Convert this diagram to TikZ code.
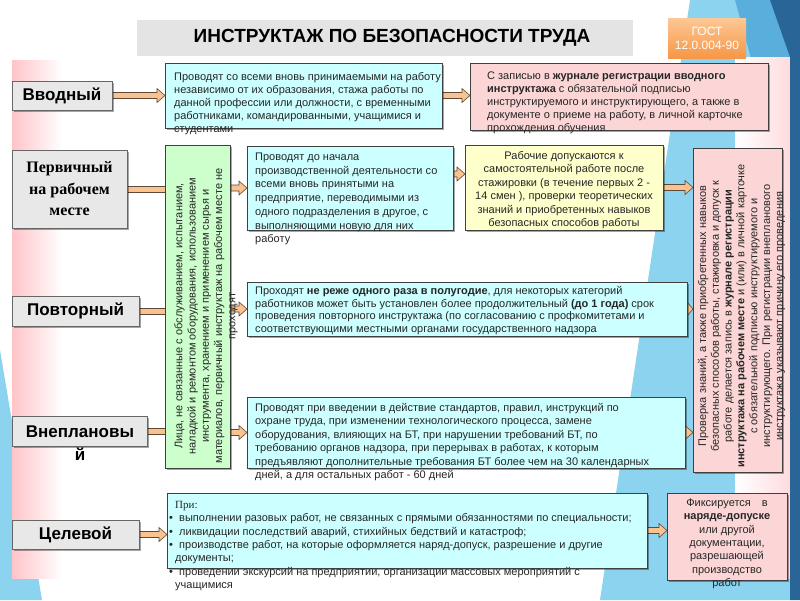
\documentclass[tikz,border=0pt]{standalone}
\usepackage{fontspec}
\setmainfont{Liberation Sans}
\newfontfamily\serifrm{Liberation Serif}
\usetikzlibrary{calc,shadows}
\pgfdeclarelayer{deco}
\pgfdeclarelayer{arr}
\pgfsetlayers{deco,arr,main}
\definecolor{cyanbox}{HTML}{CCFFFF}
\definecolor{pinkbox}{HTML}{FCD6D6}
\definecolor{yelbox}{HTML}{FFFFCC}
\definecolor{grnbox}{HTML}{CCFFCC}
\definecolor{lblfill}{HTML}{E8E8E8}
\definecolor{edge}{HTML}{404040}
\definecolor{textc}{HTML}{262626}
\definecolor{arrfill}{HTML}{F9C28E}
\definecolor{arredge}{HTML}{5E4A3A}
\definecolor{lightblue}{HTML}{8CD3EF}
\definecolor{medblue}{HTML}{5AAEDC}
\definecolor{darkblue}{HTML}{2A6598}
\definecolor{bgpink}{HTML}{FFC4C8}
\definecolor{titlegray}{HTML}{E4E4E4}
\definecolor{gostA}{HTML}{F79646}
\definecolor{gostB}{HTML}{FCC895}
\tikzset{
  box/.style={draw=edge, line width=0.7pt, inner sep=0pt, outer sep=0pt,
    drop shadow={shadow xshift=1.5pt, shadow yshift=-1.5pt, opacity=0.35, fill=black}},
  bluebox/.style={box, fill=cyanbox},
  pinkb/.style={box, fill=pinkbox},
  yelb/.style={box, fill=yelbox},
  grnb/.style={box, fill=grnbox},
  lbl/.style={box, fill=lblfill, draw=edge!80},
  lbltxt/.style={font=\fontsize{17}{21}\selectfont\bfseries, inner sep=0pt, text=black},
  txt/.style={inner sep=0pt, font=\fontsize{11}{13}\selectfont, align=left, anchor=base west, text=textc},
  ctxt/.style={inner sep=0pt, font=\fontsize{11}{13.4}\selectfont, align=center, anchor=base, text=textc},
  arrowpath/.style={fill=arrfill, draw=arredge, line width=0.6pt},
}
\newcommand\mkbox[6]{\node[#2, minimum width={#5-#3}, minimum height={#6-#4}] (#1) at ({(#3+#5)/2},{(#4+#6)/2}) {};}
\newcommand\fatarrow[2]{%
  \filldraw[arrowpath] let \p1=(#1), \p2=(#2), \n1={max(\x1,\x2-8pt)} in
   (\x1,\y1+3pt) -- (\n1,\y1+3pt) -- (\n1,\y1+7pt) -- (\x2,\y1) -- (\n1,\y1-7pt) -- (\n1,\y1-3pt) -- (\x1,\y1-3pt) -- cycle;}
\newcommand\fatbar[2]{%
  \filldraw[arrowpath] let \p1=(#1), \p2=(#2) in (\x1,\y1+3pt) rectangle (\x2,\y1-3pt);}
\begin{document}
\begin{tikzpicture}[x=1pt,y=-1pt]
\useasboundingbox (0,0) rectangle (800,600);
% ---------- background decoration
\begin{pgfonlayer}{deco}
\fill[white] (0,0) rectangle (800,600);
\fill[lightblue] (0,350) -- (42,600) -- (0,600) -- cycle;
\shade[left color=bgpink, right color=white] (12,60) rectangle (62,578);
\fill[lightblue] (690,0) -- (775,0) -- (790,57) -- (790,600) -- (600,600) -- cycle;
\fill[medblue] (735,0) -- (775,0) -- (790,57) -- (790,200) -- cycle;
\shade[left color=white, right color=bgpink!60] (735,57) rectangle (790,578);
\fill[darkblue] (770,0) -- (800,0) -- (800,600) -- (790,600) -- (790,57) -- cycle;
\end{pgfonlayer}
% ---------- title
\node[fill=titlegray, minimum width=496, minimum height=36, inner sep=0pt] (title) at (385,38) {};
\node[font=\fontsize{19}{22}\selectfont\bfseries, text=black] (titletxt) at (392,38) {ИНСТРУКТАЖ ПО БЕЗОПАСНОСТИ ТРУДА};
\node[top color=gostB, bottom color=gostA, minimum width=78, minimum height=40, inner sep=0pt] (gost) at (707,38) {};
\node[font=\fontsize{12}{14}\selectfont, text=white, align=center] (gosttxt) at (707,38) {ГОСТ\\12.0.004-90};
% ---------- left labels
\mkbox{vvod}{lbl}{12}{81}{112}{110}
\node[lbltxt] (vvodt) at (vvod) {Вводный};
\mkbox{perv}{lbl}{12}{150}{127}{228}
\node[font=\fontsize{16}{21.5}\selectfont\serifrm\bfseries, align=center, inner sep=0pt, text=black] (pervt) at (perv) {Первичный\\на рабочем\\месте};
\mkbox{povt}{lbl}{12}{296}{139}{326}
\node[lbltxt] (povtt) at (povt) {Повторный};
\mkbox{vnep}{lbl}{12}{416}{147}{446}
\node[lbltxt, anchor=base, align=center, font=\fontsize{17}{22.5}\selectfont\bfseries] (vnept) at (80,460) {Внеплановы\\й};
\mkbox{cel}{lbl}{12}{520}{139}{549}
\node[lbltxt] (celt) at (cel) {Целевой};
% ---------- content boxes
\mkbox{b1}{bluebox}{165}{63}{442}{128}
\mkbox{p1}{pinkb}{470}{63}{768}{130}
\mkbox{green}{grnb}{165}{145}{230}{468}
\mkbox{b2}{bluebox}{247}{146}{453}{230}
\mkbox{yel}{yelb}{465}{145}{663}{230}
\mkbox{pv}{pinkb}{693}{148}{782}{472}
\mkbox{b3}{bluebox}{247}{282}{687}{336}
\mkbox{b4}{bluebox}{247}{397}{685}{468}
\mkbox{b5}{bluebox}{167}{493}{647}{568}
\mkbox{fx}{pinkb}{667}{493}{787}{580}
% ---------- connectors
\begin{pgfonlayer}{arr}
\fatarrow{vvod.east}{b1.west |- vvod.east}
\fatarrow{b1.east}{p1.west |- b1.east}
\fatbar{perv.east}{green.west |- perv.east}
\fatbar{povt.east}{green.west |- povt.east}
\fatbar{vnep.east}{green.west |- vnep.east}
\fatarrow{cel.east}{b5.west |- cel.east}
\fatarrow{green.east |- b2.west}{b2.west}
\fatarrow{green.east |- b3.west}{b3.west}
\fatarrow{green.east |- b4.west}{b4.west}
\fatarrow{[yshift=14pt]b2.east}{[yshift=14pt]b2.east -| yel.west}
\fatarrow{yel.east}{pv.west |- yel.east}
\fatarrow{b3.east}{pv.west |- b3.east}
\fatarrow{b4.east}{pv.west |- b4.east}
\fatarrow{b5.east}{fx.west |- b5.east}
\end{pgfonlayer}
% ---------- texts (anchor = baseline of the last line)
\node[txt] (t1) at (174,132.5) {Проводят со всеми вновь принимаемыми на работу\\
независимо от их образования, стажа работы по\\
данной профессии или должности, с временными\\
работниками, командированными, учащимися и\\
студентами};
\node[txt] (tp1) at (487,131.5) {С записью в \textbf{журнале регистрации вводного}\\
\textbf{инструктажа} с обязательной подписью\\
инструктируемого и инструктирующего, а также в\\
документе о приеме на работу, в личной карточке\\
прохождения обучения};
\node[ctxt, anchor=center, rotate=90, font=\fontsize{11}{13.2}\selectfont] (tg) at (206,316) {Лица, не связанные с обслуживанием, испытанием,\\
наладкой и ремонтом оборудования, использованием\\
инструмента, хранением и применением сырья и\\
материалов, первичный инструктаж на рабочем месте не\\
проходят};
\node[txt, font=\fontsize{11}{13.7}\selectfont] (t2) at (255,242.7) {Проводят до начала\\
производственной деятельности со\\
всеми вновь принятыми на\\
предприятие, переводимыми из\\
одного подразделения в другое, с\\
выполняющими новую для них\\
работу};
\node[ctxt] (ty) at (564,226.5) {Рабочие допускаются к\\
самостоятельной работе после\\
стажировки (в течение первых 2 -\\
14 смен ), проверки теоретических\\
знаний и приобретенных навыков\\
безопасных способов работы};
\node[ctxt, anchor=center, rotate=90, font=\fontsize{11}{12.8}\selectfont] (tpv) at (741.5,316) {Проверка знаний, а также приобретенных навыков\\
безопасных способов работы, стажировка и допуск к\\
работе делается запись в \textbf{журнале регистрации}\\
\textbf{инструктажа на рабочем месте} и (или) в личной карточке\\
с обязательной подписью инструктируемого и\\
инструктирующего. При регистрации внепланового\\
инструктажа указывают причину его проведения};
\node[txt, font=\fontsize{11}{12.7}\selectfont] (t3) at (255,332.6) {Проходят \textbf{не реже одного раза в полугодие}, для некоторых категорий\\
работников может быть установлен более продолжительный \textbf{(до 1 года)} срок\\
проведения повторного инструктажа (по согласованию с профкомитетами и\\
соответствующими местными органами государственного надзора};
\node[txt, font=\fontsize{11}{13.4}\selectfont] (t4) at (255,478.5) {Проводят при введении в действие стандартов, правил, инструкций по\\
охране труда, при изменении технологического процесса, замене\\
оборудования, влияющих на БТ, при нарушении требований БТ, по\\
требованию органов надзора, при перерывах в работах, к которым\\
предъявляют дополнительные требования БТ более чем на 30 календарных\\
дней, а для остальных работ - 60 дней};
\node[txt, font=\fontsize{11}{13.3}\selectfont] (t5) at (169,588.3) {\hspace*{6pt}{\serifrm При:}\\
\makebox[10pt][l]{•}выполнении разовых работ, не связанных с прямыми обязанностями по специальности;\\
\makebox[10pt][l]{•}ликвидации последствий аварий, стихийных бедствий и катастроф;\\
\makebox[10pt][l]{•}производстве работ, на которые оформляется наряд-допуск, разрешение и другие\\
\hspace*{6pt}документы;\\
\makebox[10pt][l]{•}проведении экскурсий на предприятии, организации массовых мероприятий с\\
\hspace*{6pt}учащимися};
\node[ctxt, font=\fontsize{11}{13.3}\selectfont] (tfx) at (727,586.3) {Фиксируется\quad в\\
\textbf{наряде-допуске}\\
или другой\\
документации,\\
разрешающей\\
производство\\
работ};
\end{tikzpicture}
\end{document}
